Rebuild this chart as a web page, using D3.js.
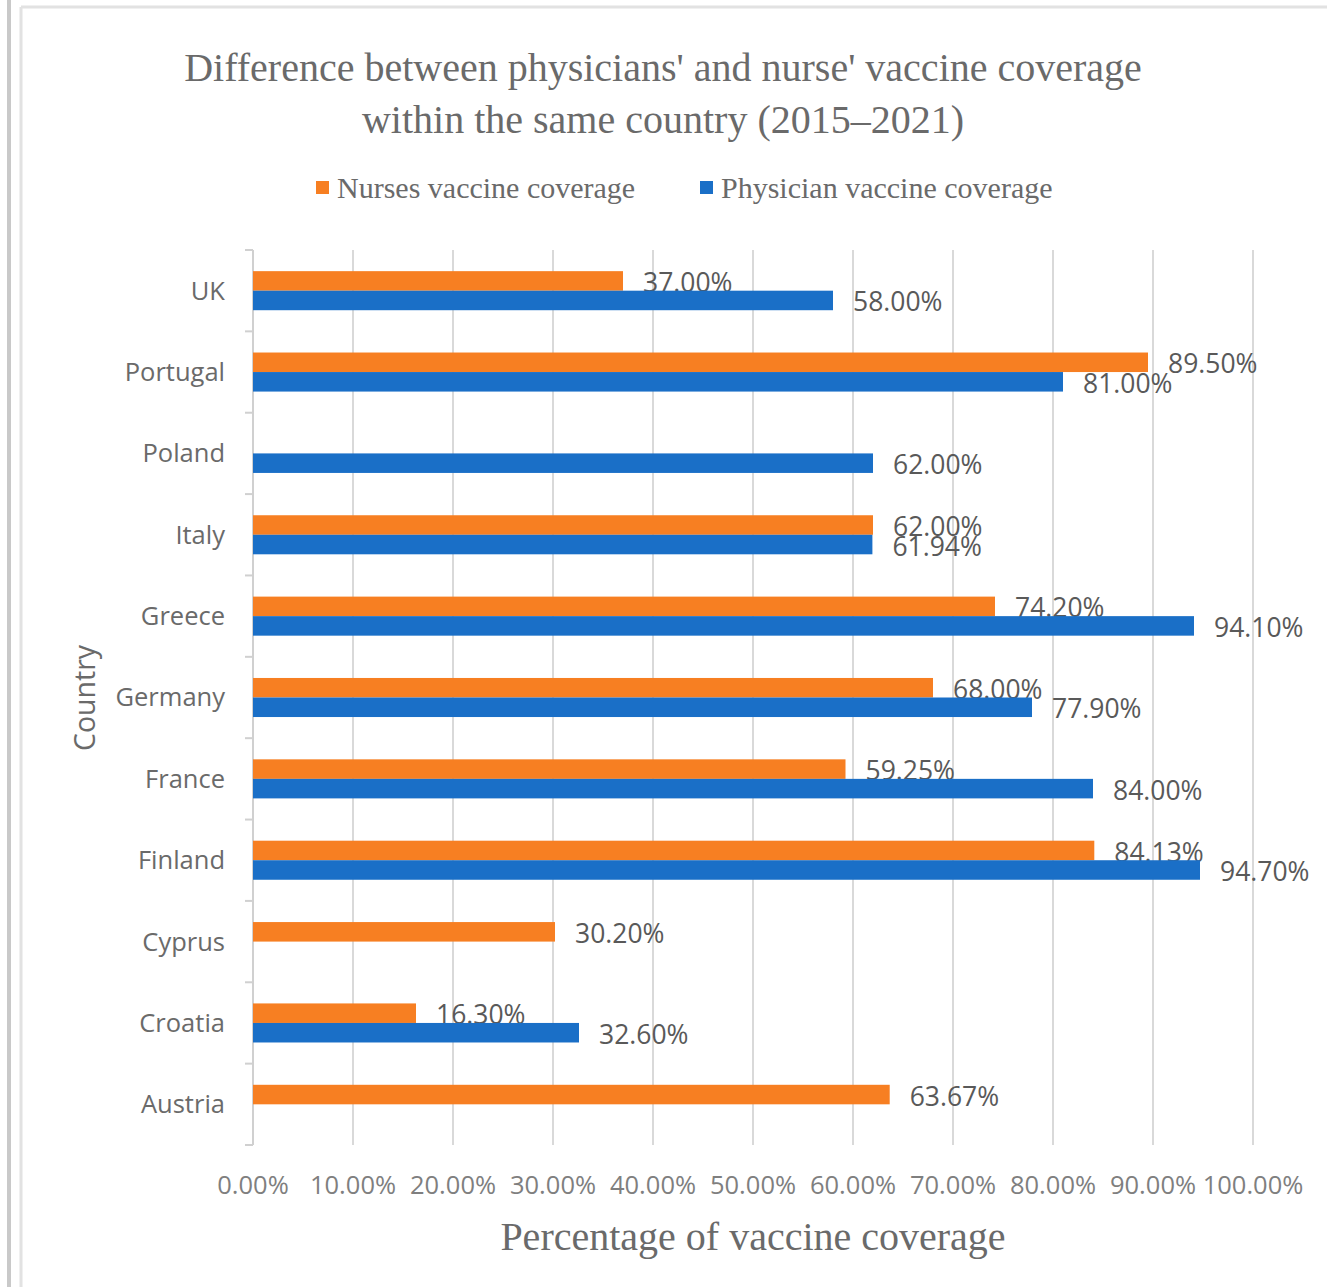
<!DOCTYPE html>
<html>
<head>
<meta charset="utf-8">
<script src="https://cdn.jsdelivr.net/npm/d3@7"></script>
<style>
  html, body { margin: 0; padding: 0; background: #fff; }
  svg { display: block; }
</style>
</head>
<body>
<script>
// Countries, top to bottom
const countries = ["UK", "Portugal", "Poland", "Italy", "Greece", "Germany", "France", "Finland", "Cyprus", "Croatia", "Austria"];
// Coverage in percent (null = no data reported)
const nurses     = [37.00, 89.50, null, 62.00, 74.20, 68.00, 59.25, 84.13, 30.20, 16.30, 63.67];
const physicians = [58.00, 81.00, 62.00, 61.94, 94.10, 77.90, 84.00, 94.70, null, 32.60, null];
const xTicks = [0, 10, 20, 30, 40, 50, 60, 70, 80, 90, 100];
const seriesNames = ["Nurses vaccine coverage", "Physician vaccine coverage"];
const seriesColors = ["#f77f22", "#1a6fc7"];

const W = 1327, H = 1287;
const plot = { left: 253, right: 1253, top: 250, bottom: 1145 };

const svg = d3.select("body").append("svg").attr("width", W).attr("height", H);

// outer frame
svg.append("rect").attr("x", 0).attr("y", 0).attr("width", W).attr("height", H).attr("fill", "#fff");
svg.append("line").attr("x1", 9).attr("x2", 9).attr("y1", 0).attr("y2", H)
  .attr("stroke", "#c9c9c9").attr("stroke-width", 4);
svg.append("line").attr("x1", 21).attr("x2", 21).attr("y1", 7).attr("y2", H)
  .attr("stroke", "#e2e2e2").attr("stroke-width", 3);
svg.append("line").attr("x1", 21).attr("x2", W).attr("y1", 7).attr("y2", 7)
  .attr("stroke", "#e2e2e2").attr("stroke-width", 3);

const x = d3.scaleLinear().domain([0, 100]).range([plot.left, plot.right]);
const y = d3.scaleBand().domain(countries).range([plot.top, plot.bottom])
  .paddingInner(0.52).paddingOuter(0.26);
const sub = d3.scaleBand().domain([0, 1]).range([0, y.bandwidth()]);

// gridlines
svg.append("g").selectAll("line").data(xTicks.slice(1)).join("line")
  .attr("x1", d => x(d)).attr("x2", d => x(d))
  .attr("y1", plot.top).attr("y2", plot.bottom)
  .attr("stroke", "#d9d9d9").attr("stroke-width", 2);

// category axis with ticks at band boundaries
const step = y.step();
const boundaries = d3.range(countries.length + 1).map(i => plot.top + i * step);
svg.append("line").attr("x1", plot.left).attr("x2", plot.left)
  .attr("y1", plot.top).attr("y2", plot.bottom)
  .attr("stroke", "#d0d0d0").attr("stroke-width", 2);
svg.append("g").selectAll("line").data(boundaries).join("line")
  .attr("x1", plot.left - 8).attr("x2", plot.left)
  .attr("y1", d => d).attr("y2", d => d)
  .attr("stroke", "#d0d0d0").attr("stroke-width", 2);

// category labels
svg.append("g").selectAll("text").data(countries).join("text")
  .attr("x", 225).attr("y", d => y(d) + y.bandwidth() / 2)
  .attr("dy", "0.35em").attr("text-anchor", "end")
  .attr("font-family", "Open Sans").attr("font-size", 25.5)
  .attr("fill", "#6a6a6a").text(d => d);

// x tick labels
svg.append("g").selectAll("text").data(xTicks).join("text")
  .attr("x", d => x(d)).attr("y", 1194).attr("text-anchor", "middle")
  .attr("font-family", "Open Sans").attr("font-size", 25.5)
  .attr("fill", "#7f7f7f").text(d => d3.format(".2f")(d) + "%");

// bars and value labels, one series at a time
[nurses, physicians].forEach((vals, s) => {
  const rows = countries.map((c, i) => ({ c, v: vals[i] })).filter(d => d.v !== null);
  const g = svg.append("g");
  g.selectAll("rect").data(rows).join("rect")
    .attr("x", x(0)).attr("y", d => y(d.c) + sub(s))
    .attr("width", d => x(d.v) - x(0)).attr("height", sub.bandwidth())
    .attr("fill", seriesColors[s]);
  g.selectAll("text").data(rows).join("text")
    .attr("x", d => x(d.v) + 20).attr("y", d => y(d.c) + sub(s) + sub.bandwidth() / 2 + 1.5)
    .attr("dy", "0.36em")
    .attr("font-family", "Open Sans").attr("font-size", 26.5)
    .attr("fill", "#595959").text(d => d3.format(".2f")(d.v) + "%");
});

// title
const title = svg.append("text").attr("text-anchor", "middle")
  .attr("font-family", "Liberation Serif").attr("font-size", 40).attr("fill", "#6a6a6a");
title.append("tspan").attr("x", 663).attr("y", 81).text("Difference between physicians' and nurse' vaccine coverage");
title.append("tspan").attr("x", 663).attr("y", 133).text("within the same country (2015\u20132021)");

// legend
const legendX = [316, 700];
seriesNames.forEach((name, s) => {
  svg.append("rect").attr("x", legendX[s]).attr("y", 181).attr("width", 13).attr("height", 13)
    .attr("fill", seriesColors[s]);
  svg.append("text").attr("x", legendX[s] + 21).attr("y", 198)
    .attr("font-family", "Liberation Serif").attr("font-size", 30)
    .attr("fill", "#6a6a6a").text(name);
});

// axis titles
svg.append("text").attr("x", 753).attr("y", 1250).attr("text-anchor", "middle")
  .attr("font-family", "Liberation Serif").attr("font-size", 40)
  .attr("fill", "#6a6a6a").text("Percentage of vaccine coverage");
svg.append("text").attr("transform", "translate(95,698) rotate(-90)")
  .attr("text-anchor", "middle")
  .attr("font-family", "Open Sans").attr("font-size", 28.5)
  .attr("fill", "#6a6a6a").text("Country");
</script>
</body>
</html>
